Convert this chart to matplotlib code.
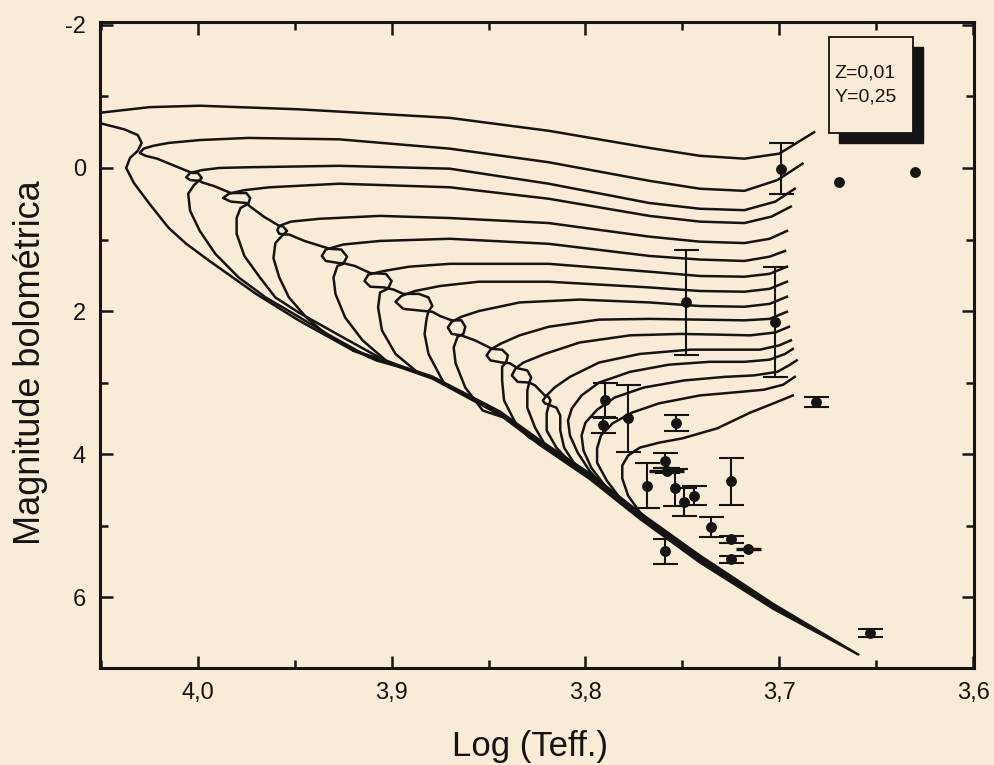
import numpy as np
import matplotlib

matplotlib.use("Agg")
import matplotlib.pyplot as plt
from matplotlib.patches import Rectangle
from matplotlib.ticker import MultipleLocator, FuncFormatter

plt.rcParams["font.family"] = ["Liberation Sans", "DejaVu Sans"]

PAPER = "#f9ecd6"
INK = "#141414"

# converged lower main sequence: blue (faint side) and red edges of the band
ms_band_logt = [3.920, 3.879, 3.844, 3.824, 3.798, 3.772, 3.741, 3.703, 3.659]
ms_band_mbol_blue = [2.56, 2.95, 3.46, 3.87, 4.35, 4.91, 5.52, 6.17, 6.81]
ms_band_mbol_red = [2.54, 2.91, 3.40, 3.79, 4.26, 4.81, 5.41, 6.09, 6.80]

# isochrones, youngest first: MS above the band -> hook -> subgiant branch
iso01_logt = [3.920, 3.948, 3.970, 3.982, 3.994, 4.006, 4.015, 4.025, 4.033, 4.037,
              4.035, 4.031, 4.029, 4.031, 4.038, 4.051, 4.051, 4.025, 3.999, 3.948,
              3.870, 3.819, 3.767, 3.741, 3.718, 3.700, 3.682]
iso01_mbol = [2.55, 2.13, 1.76, 1.53, 1.30, 1.06, 0.84, 0.50, 0.21, 0.00,
              -0.14, -0.24, -0.35, -0.46, -0.54, -0.63, -0.77, -0.85, -0.87, -0.82,
              -0.70, -0.52, -0.28, -0.17, -0.13, -0.20, -0.50]

iso02_logt = [3.912, 3.932, 3.953, 3.965, 3.979, 3.991, 3.999, 4.004, 4.005, 4.002,
              3.998, 4.000, 4.003, 4.012, 4.021, 4.027, 4.030, 4.028, 4.023, 4.015,
              3.999, 3.974, 3.927, 3.870, 3.819, 3.767, 3.741, 3.718, 3.701, 3.688]
iso02_mbol = [2.64, 2.34, 2.00, 1.81, 1.53, 1.20, 0.88, 0.60, 0.36, 0.24,
              0.14, 0.07, 0.07, -0.03, -0.13, -0.17, -0.21, -0.27, -0.31, -0.35,
              -0.39, -0.42, -0.40, -0.27, -0.08, 0.18, 0.29, 0.32, 0.17, -0.06]

iso03_logt = [3.901, 3.927, 3.948, 3.960, 3.968, 3.976, 3.980, 3.980, 3.978, 3.974,
              3.973, 3.975, 3.983, 3.992, 3.998, 3.999, 4.004, 4.006, 4.004, 3.998,
              3.989, 3.974, 3.927, 3.870, 3.819, 3.767, 3.741, 3.718, 3.702, 3.692]
iso03_mbol = [2.73, 2.34, 2.02, 1.81, 1.53, 1.23, 0.92, 0.70, 0.56, 0.50,
              0.42, 0.35, 0.35, 0.25, 0.20, 0.18, 0.17, 0.13, 0.07, 0.03,
              0.00, -0.01, -0.03, 0.01, 0.22, 0.49, 0.57, 0.59, 0.47, 0.29]

iso04_logt = [3.896, 3.908, 3.922, 3.934, 3.944, 3.953, 3.958, 3.961, 3.960, 3.957,
              3.954, 3.956, 3.958, 3.966, 3.973, 3.975, 3.983, 3.987, 3.984, 3.976,
              3.963, 3.927, 3.870, 3.819, 3.767, 3.741, 3.718, 3.704, 3.694]
iso04_mbol = [2.78, 2.69, 2.51, 2.32, 2.09, 1.81, 1.53, 1.26, 1.05, 0.96,
              0.88, 0.82, 0.81, 0.68, 0.54, 0.49, 0.47, 0.42, 0.36, 0.31,
              0.27, 0.22, 0.27, 0.43, 0.67, 0.75, 0.77, 0.68, 0.54]

iso05_logt = [3.891, 3.903, 3.915, 3.924, 3.929, 3.930, 3.928, 3.925, 3.923, 3.926,
              3.932, 3.945, 3.953, 3.955, 3.958, 3.959, 3.958, 3.952, 3.937, 3.906,
              3.870, 3.819, 3.767, 3.741, 3.718, 3.705, 3.696]
iso05_mbol = [2.82, 2.69, 2.41, 2.09, 1.76, 1.53, 1.37, 1.34, 1.24, 1.14,
              1.13, 1.02, 0.93, 0.93, 0.92, 0.87, 0.81, 0.75, 0.71, 0.67,
              0.70, 0.77, 0.96, 1.03, 1.05, 0.99, 0.88]

iso06_logt = [3.886, 3.898, 3.905, 3.907, 3.906, 3.902, 3.900, 3.903, 3.911, 3.919,
              3.925, 3.927, 3.934, 3.936, 3.934, 3.925, 3.906, 3.870, 3.819, 3.767,
              3.741, 3.718, 3.705, 3.697]
iso06_mbol = [2.87, 2.60, 2.27, 1.95, 1.74, 1.69, 1.58, 1.48, 1.47, 1.37,
              1.33, 1.33, 1.30, 1.23, 1.14, 1.07, 1.02, 0.99, 1.06, 1.23,
              1.28, 1.30, 1.24, 1.16]

iso07_logt = [3.873, 3.881, 3.883, 3.882, 3.881, 3.879, 3.881, 3.886, 3.894, 3.899,
              3.904, 3.911, 3.914, 3.912, 3.904, 3.891, 3.870, 3.819, 3.767, 3.741,
              3.718, 3.705, 3.696]
iso07_mbol = [3.01, 2.60, 2.32, 2.11, 2.00, 1.93, 1.81, 1.76, 1.76, 1.70,
              1.67, 1.66, 1.58, 1.49, 1.44, 1.38, 1.34, 1.34, 1.45, 1.51,
              1.52, 1.48, 1.38]

iso08_logt = [3.842, 3.853, 3.862, 3.867, 3.868, 3.866, 3.863, 3.862, 3.864, 3.869,
              3.875, 3.879, 3.883, 3.894, 3.898, 3.895, 3.888, 3.875, 3.855, 3.819,
              3.767, 3.741, 3.718, 3.705, 3.696]
iso08_mbol = [3.49, 3.39, 3.07, 2.73, 2.51, 2.36, 2.32, 2.22, 2.13, 2.13,
              2.07, 2.01, 2.00, 1.97, 1.87, 1.79, 1.72, 1.65, 1.59, 1.59,
              1.67, 1.72, 1.73, 1.69, 1.59]

iso09_logt = [3.821, 3.829, 3.836, 3.842, 3.843, 3.843, 3.841, 3.840, 3.843, 3.848,
              3.857, 3.862, 3.864, 3.869, 3.871, 3.869, 3.864, 3.855, 3.834, 3.803,
              3.767, 3.741, 3.718, 3.705, 3.696]
iso09_mbol = [3.88, 3.77, 3.57, 3.25, 2.97, 2.78, 2.72, 2.62, 2.54, 2.53,
              2.41, 2.36, 2.34, 2.32, 2.23, 2.15, 2.08, 2.00, 1.88, 1.84,
              1.88, 1.93, 1.94, 1.90, 1.80]

iso10_logt = [3.812, 3.820, 3.826, 3.830, 3.830, 3.829, 3.828, 3.830, 3.835, 3.839,
              3.843, 3.849, 3.851, 3.849, 3.844, 3.834, 3.819, 3.793, 3.767, 3.741,
              3.718, 3.705, 3.696]
iso10_mbol = [4.06, 3.91, 3.63, 3.35, 3.11, 3.00, 2.93, 2.83, 2.80, 2.73,
              2.72, 2.69, 2.62, 2.54, 2.46, 2.34, 2.22, 2.12, 2.11, 2.12,
              2.13, 2.11, 2.01]

iso11_logt = [3.806, 3.815, 3.820, 3.820, 3.819, 3.818, 3.819, 3.821, 3.826, 3.829,
              3.835, 3.838, 3.836, 3.832, 3.821, 3.803, 3.777, 3.751, 3.731, 3.715,
              3.702, 3.695]
iso11_mbol = [4.17, 3.91, 3.67, 3.43, 3.32, 3.25, 3.20, 3.18, 3.04, 3.00,
              2.99, 2.90, 2.80, 2.72, 2.60, 2.44, 2.34, 2.32, 2.33, 2.34,
              2.30, 2.22]

iso12_logt = [3.798, 3.806, 3.811, 3.813, 3.813, 3.815, 3.818, 3.821, 3.822, 3.820,
              3.816, 3.808, 3.793, 3.772, 3.746, 3.726, 3.710, 3.700, 3.694]
iso12_mbol = [4.33, 4.12, 3.91, 3.67, 3.46, 3.35, 3.32, 3.29, 3.25, 3.18,
              3.07, 2.92, 2.72, 2.60, 2.54, 2.54, 2.54, 2.48, 2.41]

iso13_logt = [3.789, 3.798, 3.804, 3.808, 3.809, 3.807, 3.802, 3.793, 3.777, 3.757,
              3.736, 3.718, 3.705, 3.697, 3.693]
iso13_mbol = [4.51, 4.23, 3.98, 3.74, 3.53, 3.36, 3.18, 3.00, 2.85, 2.75,
              2.71, 2.71, 2.68, 2.60, 2.53]

iso14_logt = [3.781, 3.790, 3.797, 3.801, 3.802, 3.800, 3.794, 3.785, 3.770, 3.749,
              3.728, 3.713, 3.701, 3.695, 3.691]
iso14_mbol = [4.69, 4.44, 4.19, 3.95, 3.74, 3.56, 3.38, 3.21, 3.07, 2.97,
              2.92, 2.90, 2.85, 2.76, 2.69]

iso15_logt = [3.772, 3.782, 3.789, 3.794, 3.794, 3.792, 3.786, 3.776, 3.762, 3.741,
              3.720, 3.708, 3.698, 3.692]
iso15_mbol = [4.88, 4.62, 4.37, 4.12, 3.92, 3.74, 3.57, 3.42, 3.29, 3.18,
              3.13, 3.10, 3.03, 2.92]

iso16_logt = [3.763, 3.772, 3.778, 3.781, 3.781, 3.778, 3.772, 3.762, 3.750, 3.732,
              3.715, 3.702, 3.693]
iso16_mbol = [5.05, 4.81, 4.58, 4.34, 4.16, 4.02, 3.91, 3.84, 3.78, 3.64,
              3.42, 3.28, 3.18]

isochrones = [
    (iso01_logt, iso01_mbol), (iso02_logt, iso02_mbol), (iso03_logt, iso03_mbol),
    (iso04_logt, iso04_mbol), (iso05_logt, iso05_mbol), (iso06_logt, iso06_mbol),
    (iso07_logt, iso07_mbol), (iso08_logt, iso08_mbol), (iso09_logt, iso09_mbol),
    (iso10_logt, iso10_mbol), (iso11_logt, iso11_mbol), (iso12_logt, iso12_mbol),
    (iso13_logt, iso13_mbol), (iso14_logt, iso14_mbol), (iso15_logt, iso15_mbol),
    (iso16_logt, iso16_mbol),
]

# observed stars
obs_logt = [3.790, 3.791, 3.778, 3.7535, 3.759, 3.758, 3.768, 3.754, 3.749, 3.744,
            3.725, 3.735, 3.725, 3.716, 3.725, 3.759, 3.699, 3.748, 3.702, 3.681,
            3.669, 3.630, 3.653]
obs_mbol = [3.25, 3.59, 3.50, 3.57, 4.09, 4.23, 4.44, 4.47, 4.67, 4.58,
            4.38, 5.02, 5.19, 5.33, 5.47, 5.36, 0.01, 1.88, 2.15, 3.27,
            0.19, 0.06, 6.50]
obs_mbol_err = [0.24, 0.11, 0.47, 0.11, 0.11, 0.04, 0.31, 0.26, 0.20, 0.13,
                0.33, 0.14, 0.05, 0.0, 0.05, 0.18, 0.36, 0.74, 0.77, 0.065,
                0.0, 0.0, 0.06]
obs_logt_err = [0.0, 0.0, 0.0, 0.0, 0.0, 0.009, 0.0, 0.0, 0.0, 0.0,
                0.0, 0.0, 0.0, 0.0065, 0.0, 0.0, 0.0, 0.0, 0.0, 0.0,
                0.0, 0.0, 0.0]

fig, ax = plt.subplots(figsize=(9.95, 7.65), dpi=100)
fig.patch.set_facecolor(PAPER)
ax.set_facecolor(PAPER)
ax.set_position([0.1005, 0.1268, 0.8784, 0.8444])

band_x = ms_band_logt + ms_band_logt[::-1]
band_y = ms_band_mbol_red + ms_band_mbol_blue[::-1]
ax.fill(band_x, band_y, color=INK, lw=1.2, zorder=2)

for logt, mbol in isochrones:
    ax.plot(logt, mbol, color=INK, lw=1.8, solid_joinstyle="round", zorder=2)

x = np.array(obs_logt)
y = np.array(obs_mbol)
yerr = np.array(obs_mbol_err)
xerr = np.array(obs_logt_err)

has_y = yerr > 0
ax.errorbar(x[has_y], y[has_y], yerr=yerr[has_y], fmt="none", ecolor=INK,
            elinewidth=1.5, capsize=9, capthick=1.5, zorder=3)
has_x = xerr > 0
ax.errorbar(x[has_x], y[has_x], xerr=xerr[has_x], fmt="none", ecolor=INK,
            elinewidth=2.4, capsize=0, zorder=3)
ax.plot(x, y, "o", color=INK, ms=6.8, zorder=4)

ax.set_xlim(4.0505, 3.5995)
ax.set_ylim(6.99, -2.04)

ax.xaxis.set_major_locator(MultipleLocator(0.1))
ax.xaxis.set_minor_locator(MultipleLocator(0.05))
ax.yaxis.set_major_locator(MultipleLocator(2))
ax.yaxis.set_minor_locator(MultipleLocator(1))
ax.xaxis.set_major_formatter(FuncFormatter(lambda v, p: f"{v:.1f}".replace(".", ",")))
ax.yaxis.set_major_formatter(FuncFormatter(lambda v, p: f"{v:.0f}"))

ax.tick_params(which="both", direction="in", top=True, right=True,
               width=1.8, colors=INK, labelsize=17, pad=10)
ax.tick_params(which="major", length=9)
ax.tick_params(which="minor", length=5.5)
for side in ax.spines.values():
    side.set_linewidth(2.2)
    side.set_color(INK)

ax.set_xlabel("Log (Teff.)", fontsize=25, color=INK)
ax.set_ylabel("Magnitude bolométrica", fontsize=26, color=INK)
ax.xaxis.set_label_coords(0.492, -0.096)
ax.yaxis.set_label_coords(-0.059, 0.472)

# composition box with drop shadow
ax.add_patch(Rectangle((0.8454, 0.8125), 0.0961, 0.1486, transform=ax.transAxes,
                       facecolor=INK, edgecolor=INK, zorder=5))
ax.add_patch(Rectangle((0.834, 0.828), 0.0961, 0.1486, transform=ax.transAxes,
                       facecolor=PAPER, edgecolor=INK, lw=1.3, zorder=6))
ax.text(0.840, 0.921, "Z=0,01", transform=ax.transAxes, fontsize=14,
        va="center", ha="left", color=INK, zorder=7)
ax.text(0.840, 0.884, "Y=0,25", transform=ax.transAxes, fontsize=14,
        va="center", ha="left", color=INK, zorder=7)

fig.savefig("out.png", dpi=100, facecolor=PAPER)
